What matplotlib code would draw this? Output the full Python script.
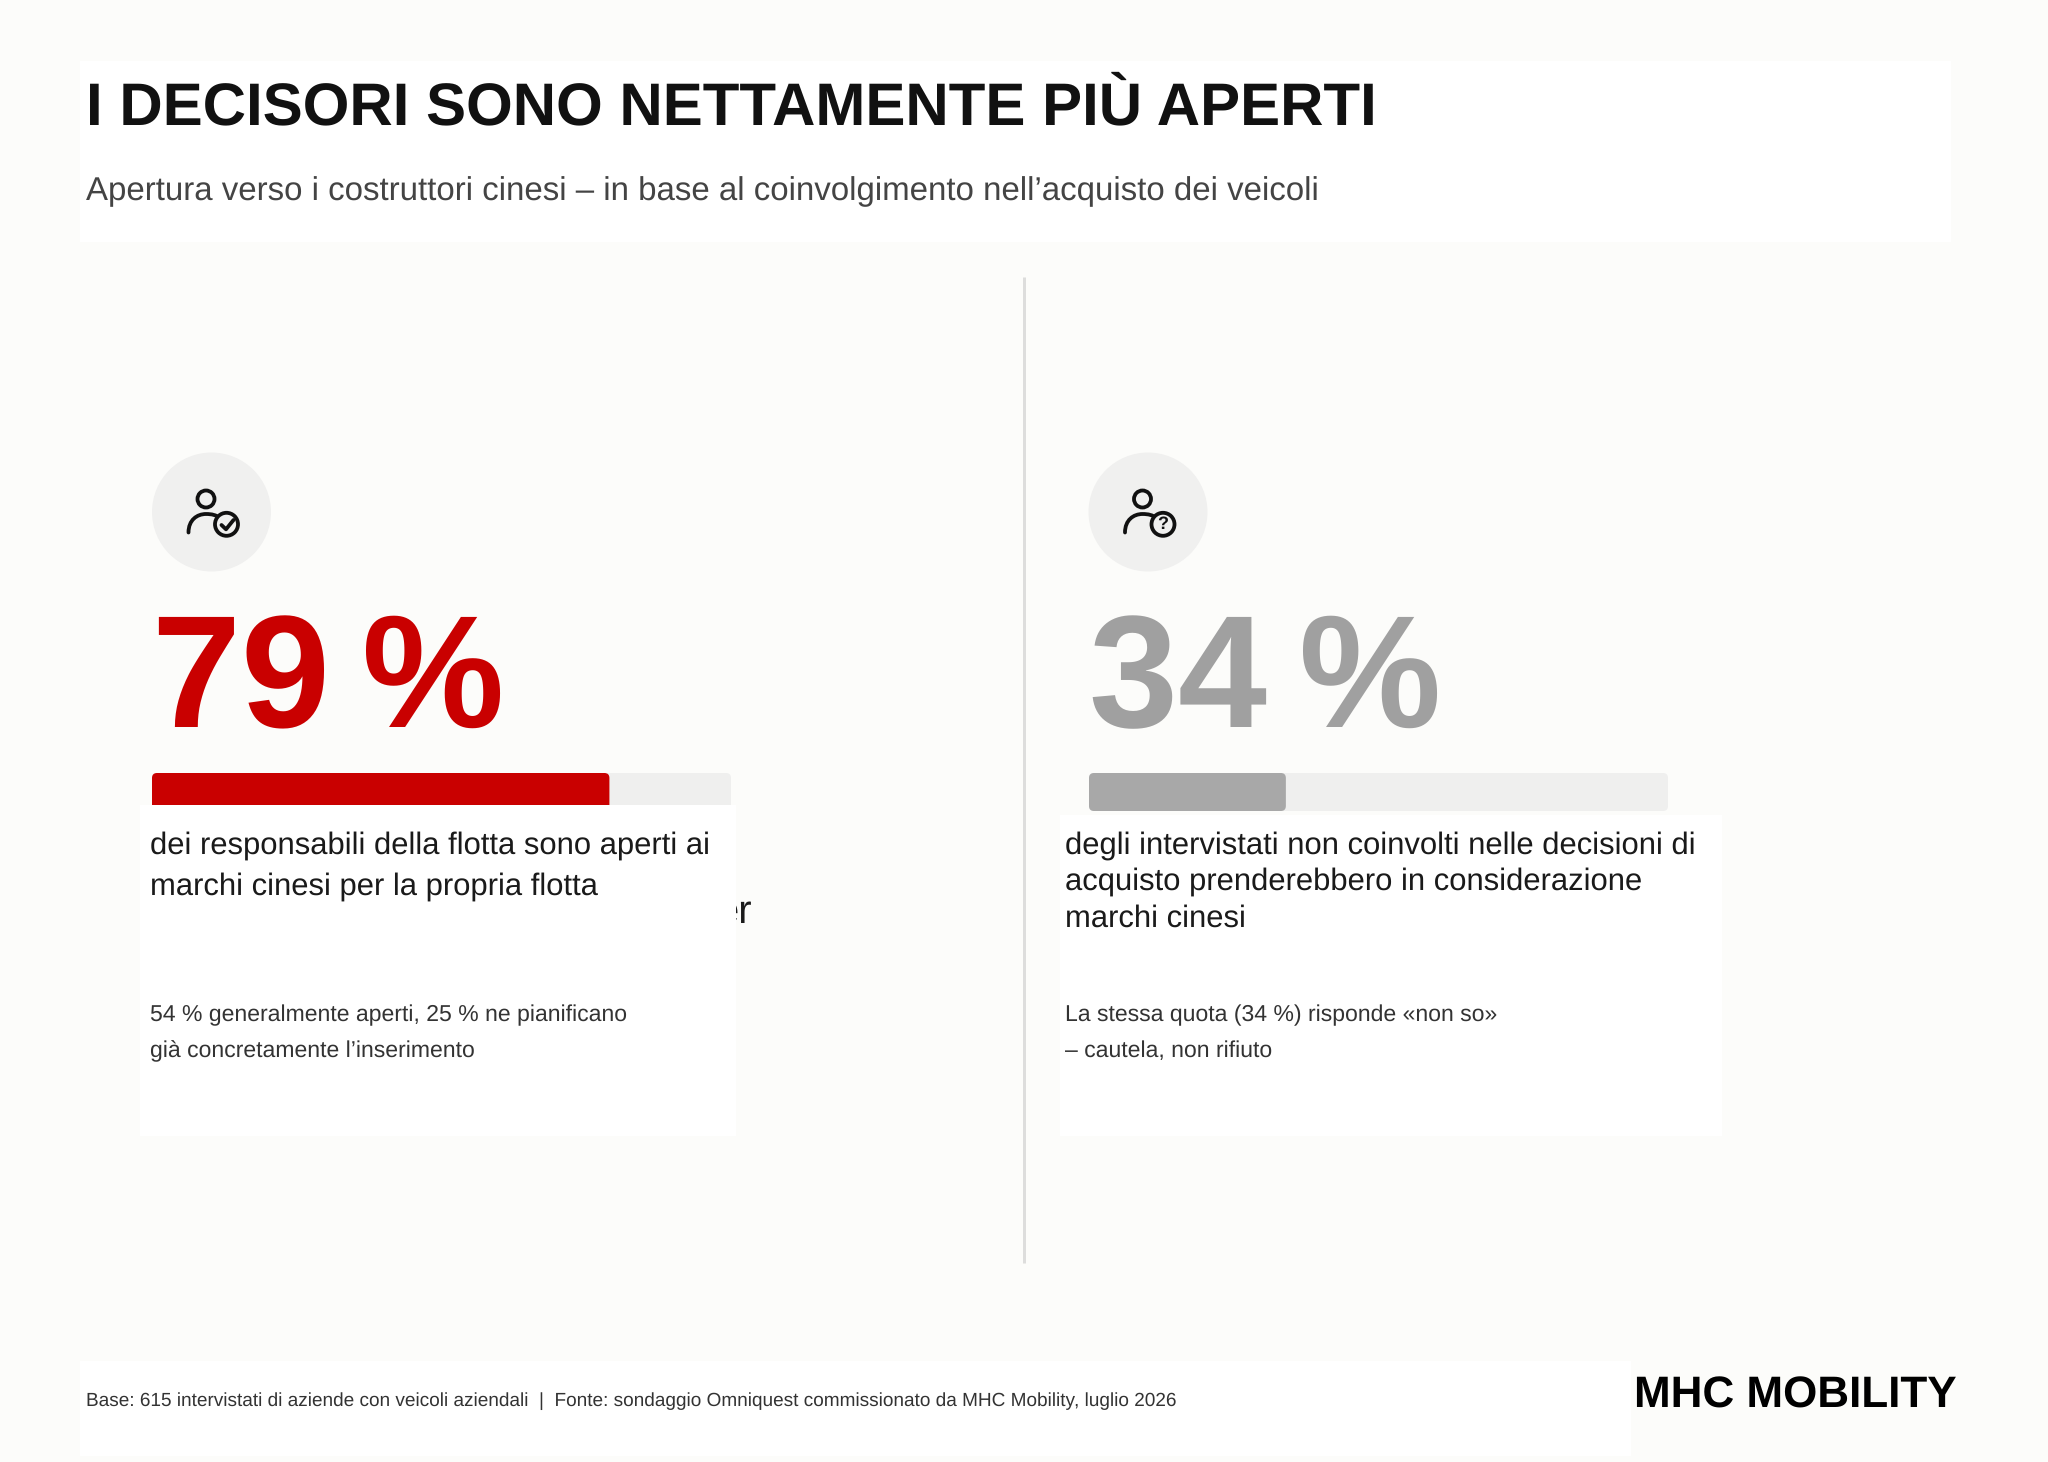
import matplotlib
matplotlib.use('Agg')
import matplotlib.pyplot as plt
from matplotlib.patches import Rectangle, FancyBboxPatch, Circle, PathPatch
from matplotlib.path import Path

plt.rcParams['font.family'] = ['Liberation Sans', 'DejaVu Sans']
plt.rcParams['text.hinting'] = 'no_hinting'
plt.rcParams['text.hinting_factor'] = 1

BG = '#fcfcfa'
TRACK = '#efefee'
INK = '#111111'
BODY = '#1a1a1a'

title = 'I DECISORI SONO NETTAMENTE PIÙ APERTI'
subtitle = 'Apertura verso i costruttori cinesi – in base al coinvolgimento nell’acquisto dei veicoli'
values = [79, 34]
value_labels = ['79\u2009%', '34\u2009%']
value_colors = ['#c90000', '#a0a0a0']
fill_colors = ['#c90000', '#a8a8a8']
body_left = ['dei responsabili della flotta sono aperti ai', 'marchi cinesi per la propria flotta']
body_right = ['degli intervistati non coinvolti nelle decisioni di', 'acquisto prenderebbero in considerazione', 'marchi cinesi']
note_left = ['54 % generalmente aperti, 25 % ne pianificano', 'già concretamente l’inserimento']
note_right = ['La stessa quota (34 %) risponde «non so»', '– cautela, non rifiuto']
footer = 'Base: 615 intervistati di aziende con veicoli aziendali  |  Fonte: sondaggio Omniquest commissionato da MHC Mobility, luglio 2026'
logo = 'MHC MOBILITY'


def px(size):
    # font size in figure pixels -> points at dpi 100
    return size * 0.72


def panel(ax, x0, y0, x1, y1, z=2):
    ax.add_patch(Rectangle((x0, y0), x1 - x0, y1 - y0, fc='white', ec='none', zorder=z))


def bar(ax, x, y, w, h, color, z):
    ax.add_patch(FancyBboxPatch((x + 4, y + 4), w - 8, h - 8, boxstyle='round,pad=4,rounding_size=5',
                                fc=color, ec='none', zorder=z))


def icon(ax, cx, cy, mark):
    lw = 3.8 * 0.72
    ax.add_patch(Circle((cx, cy), 59.5, fc='#f0f0ef', ec='none', zorder=1))
    ax.add_patch(Circle((cx - 5.5, cy - 13), 8.5, fc='none', ec=INK, lw=lw, zorder=3))
    verts = [(cx - 23, cy + 20.5), (cx - 23, cy + 8), (cx - 14.5, cy + 2), (cx - 5.5, cy + 2),
             (cx + 0.5, cy + 2), (cx + 4.5, cy + 3), (cx + 8.5, cy + 6)]
    codes = [Path.MOVETO, Path.CURVE4, Path.CURVE4, Path.CURVE4, Path.CURVE4, Path.CURVE4, Path.CURVE4]
    ax.add_patch(PathPatch(Path(verts, codes), fc='none', ec=INK, lw=lw, capstyle='round', zorder=3))
    bx, by = cx + 15, cy + 12.3
    ax.add_patch(Circle((bx, by), 11.5, fc='#f0f0ef', ec=INK, lw=lw, zorder=4))
    if mark == 'check':
        ax.plot([bx - 5, bx - 0.5, bx + 7], [by + 0.7, by + 5, by - 4.3], color=INK, lw=lw,
                solid_capstyle='round', solid_joinstyle='round', zorder=5)
    else:
        ax.text(bx - 0.5, by + 0.5, '?', fontsize=px(18), fontweight='bold', color=INK, ha='center', va='center', zorder=5)


fig = plt.figure(figsize=(20.48, 14.62), dpi=100, facecolor=BG)
ax = fig.add_axes([0, 0, 1, 1])
ax.set_xlim(0, 2048)
ax.set_ylim(1462, 0)
ax.axis('off')

# header + footer panels
panel(ax, 80, 60.5, 1951, 242)
panel(ax, 80, 1361, 1631, 1456)
ax.text(86, 124.5, title, fontsize=px(60), fontweight='bold', color=INK, va='baseline', zorder=3)
ax.text(86, 200, subtitle, fontsize=px(33), color='#444444', va='baseline', zorder=3)
ax.text(86, 1406, footer, fontsize=px(19), color='#333333', va='baseline', zorder=3)
ax.text(1634, 1408, logo, fontsize=px(44.4), fontweight='bold', color='black', va='baseline', zorder=3)

# divider
ax.plot([1024, 1024], [277, 1263], color='#dddddc', lw=3 * 0.72, zorder=1, solid_capstyle='butt')

# left column
track_w = 579
icon(ax, 211.5, 512, 'check')
ax.text(152.5, 727, value_labels[0], fontsize=px(160), fontweight='bold', color=value_colors[0], va='baseline', zorder=3)
bar(ax, 152, 773, track_w, 38, TRACK, 1)
bar(ax, 152, 773, track_w * values[0] / 100, 38, fill_colors[0], 1.5)
# leftover line end sticking out from under the panel
ax.text(752, 922.5, 'er', fontsize=px(40), color=BODY, ha='right', va='baseline', zorder=1)
panel(ax, 139.5, 805, 736, 1135.5)
for line, y in zip(body_left, [854, 894.5]):
    ax.text(150, y, line, fontsize=px(31), color=BODY, va='baseline', zorder=3)
for line, y in zip(note_left, [1021.5, 1057.5]):
    ax.text(150, y, line, fontsize=px(23), color='#333333', va='baseline', zorder=3)

# right column
icon(ax, 1148, 512, 'question')
ax.text(1089, 727, value_labels[1], fontsize=px(160), fontweight='bold', color=value_colors[1], va='baseline', zorder=3)
bar(ax, 1089, 773, track_w, 38, TRACK, 1)
bar(ax, 1089, 773, track_w * values[1] / 100, 38, fill_colors[1], 1.5)
panel(ax, 1060, 815, 1722, 1135.5)
for line, y in zip(body_right, [854, 890, 926.5]):
    ax.text(1065, y, line, fontsize=px(31), color=BODY, va='baseline', zorder=3)
for line, y in zip(note_right, [1021.5, 1057.5]):
    ax.text(1065, y, line, fontsize=px(23), color='#333333', va='baseline', zorder=3)

fig.savefig('out.png', dpi=100, facecolor=BG)
